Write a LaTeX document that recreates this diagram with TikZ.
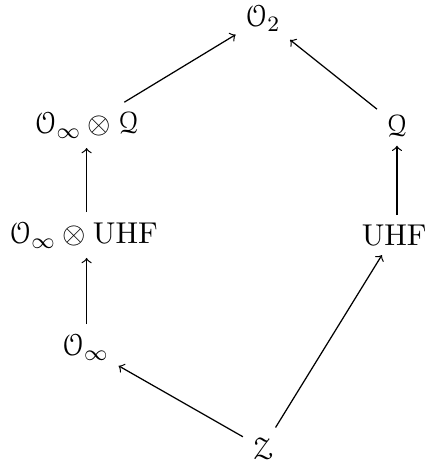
\documentclass[tikz,border=0pt]{standalone}
\usepackage{amsmath,amssymb}
\usepackage[mathcal]{eucal}
\begin{document}
\begin{tikzpicture}[x=1pt,y=1pt,every node/.style={font=\fontsize{11.3}{13.5}\selectfont},arr/.style={-{To[scale=1.1]},line width=0.45pt}]
\useasboundingbox (0,0) rectangle (154.5,169.5);
\node (o2) at (95.6,162.9) {$\mathcal{O}_2$};
\node (oq) at (31.5,124.0) {$\mathcal{O}_\infty\otimes\mathcal{Q}$};
\node (q) at (144.4,124.0) {$\mathcal{Q}$};
\node (ouhf) at (30.4,84.0) {$\mathcal{O}_\infty\otimes\mathrm{UHF}$};
\node (uhf) at (143.4,84.0) {$\mathrm{UHF}$};
\node (oinf) at (31.1,43.3) {$\mathcal{O}_\infty$};
\node (z) at (95.6,6.5) {$\mathcal{Z}$};
\draw[arr] (oq) -- (o2);
\draw[arr] (q) -- (o2);
\draw[arr] (ouhf.north -| oq) -- (oq);
\draw[arr] (uhf.north -| q) -- (q);
\draw[arr] (oinf.north -| oq) -- (ouhf.south -| oq);
\draw[arr] (z) -- (oinf);
\draw[arr] (z) -- (uhf);
\end{tikzpicture}
\end{document}
